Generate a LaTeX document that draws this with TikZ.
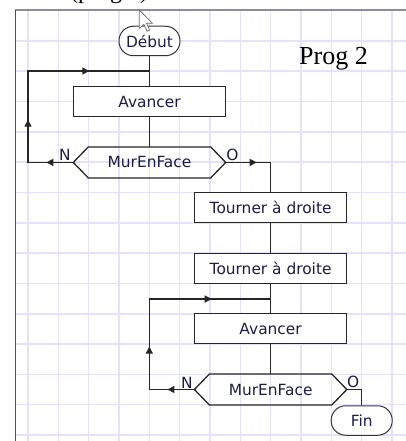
\documentclass[tikz,border=0pt]{standalone}
\usepackage{fontspec}
\setmainfont{Liberation Serif}
\newfontfamily\uifont{DejaVu Sans}
\usetikzlibrary{calc,arrows.meta,decorations.markings}
\definecolor{gridc}{RGB}{226,226,255}
\definecolor{txt}{RGB}{28,28,72}
\definecolor{framet}{RGB}{140,140,158}
\definecolor{framel}{RGB}{80,80,80}
\tikzset{
  >={Triangle[length=7pt,width=7pt]},
  uif/.style={font=\uifont\fontsize{15.4}{18}\selectfont, text=txt},
  ln/.style={line width=1.3pt, draw=black!85},
  gridl/.style={line width=1.6pt, draw=gridc},
  boxn/.style={uif, draw=black!85, line width=1.3pt, fill=white, minimum width=152pt, minimum height=30pt, inner sep=0pt},
  hexn/.style={uif, minimum width=152pt, minimum height=30.6pt, inner sep=0pt},
  termn/.style={uif, draw=black!80, line width=1pt, fill=white, rounded corners=14.5pt, minimum width=61pt, minimum height=29.5pt, inner sep=0pt},
  lbl/.style={uif, inner sep=0pt},
  loopmarks/.style={postaction={decorate}, decoration={markings,
     mark=at position 27pt with {\arrow{>}},
     mark=at position 88pt with {\arrow{>}},
     mark=at position 198pt with {\arrow{>}}}},
  omark/.style={postaction={decorate}, decoration={markings,
     mark=at position 31pt with {\arrow{>}}}}
}
\begin{document}
\begin{tikzpicture}[x=1pt,y=-1pt]
\useasboundingbox (0,0) rectangle (406,441);
\clip (0,0) rectangle (406,441);
\fill[white] (0,0) rectangle (406,441);
% grid
\foreach \i in {0,...,12} \draw[gridl] (28+\i*30.33,10.4) -- (28+\i*30.33,441);
\foreach \j in {1,...,14} \draw[gridl] (15.7,10.4+\j*30.33) -- (406,10.4+\j*30.33);
% frame
\draw[draw=framet, line width=2pt] (15,10.4) -- (406,10.4);
\draw[draw=framel, line width=1.5pt] (15.7,9.6) -- (15.7,441);
% clipped caption above
\node[anchor=base west, inner sep=0pt, font=\fontsize{24}{28}\selectfont] (topcap) at (70,-1) {(prog 2)};
\node[anchor=base west, inner sep=0pt, font=\fontsize{26}{30}\selectfont] (prog) at (299,64.5) {Prog 2};
% nodes
\node[termn] (debut) at (149.5,41) {Début};
\node[boxn] (av1) at (149.5,101.7) {Avancer};
\node[hexn] (h1) at (149.5,162.4) {MurEnFace};
\node[boxn] (t1) at (270.6,207.3) {Tourner à droite};
\node[boxn] (t2) at (270.6,268.3) {Tourner à droite};
\node[boxn] (av2) at (270.6,328.7) {Avancer};
\node[hexn] (h2) at (270.6,389.5) {MurEnFace};
\node[termn] (fin) at (361.7,420.5) {Fin};
% hexagons
\draw[ln] ([xshift=15pt]h1.north west) -- ([xshift=-15pt]h1.north east) -- (h1.east) -- ([xshift=-15pt]h1.south east) -- ([xshift=15pt]h1.south west) -- (h1.west) -- cycle;
\draw[ln] ([xshift=15pt]h2.north west) -- ([xshift=-15pt]h2.north east) -- (h2.east) -- ([xshift=-15pt]h2.south east) -- ([xshift=15pt]h2.south west) -- (h2.west) -- cycle;
% coordinates
\coordinate (c1) at (28,162.4);
\coordinate (c2) at (28,71);
\coordinate (j1) at (149.5,71);
\coordinate (o1) at (270.6,162.4);
\coordinate (c3) at (149.3,389.5);
\coordinate (c4) at (149.3,299);
\coordinate (j2) at (270.6,299);
\coordinate (o2) at (361.7,389.5);
% connectors
\draw[ln] (debut.south) -- (av1.north);
\draw[ln] (av1.south) -- (h1.north);
\draw[ln, loopmarks] (h1.west) -- (c1) -- (c2) -- (j1);
\draw[ln, omark] (h1.east) -- (o1) -- (t1.north);
\draw[ln] (t1.south) -- (t2.north);
\draw[ln] (t2.south) -- (av2.north);
\draw[ln] (av2.south) -- (h2.north);
\draw[ln, loopmarks] (h2.west) -- (c3) -- (c4) -- (j2);
\draw[ln] (h2.east) -- (o2) -- (fin.north);
% labels
\node[lbl] (n1) at (65,155) {N};
\node[lbl] (o1l) at (232.5,155) {O};
\node[lbl] (n2) at (187,382.5) {N};
\node[lbl] (o2l) at (353.3,382) {O};
% mouse cursor
\draw[fill=white, draw=black!55, line width=0.8pt, shift={(139.3,10)}, scale=1.15] (0,0) -- (0,16) -- (4,12.5) -- (6.8,18.5) -- (9,17.5) -- (6.3,11.5) -- (11.3,11.5) -- cycle;
\end{tikzpicture}
\end{document}
